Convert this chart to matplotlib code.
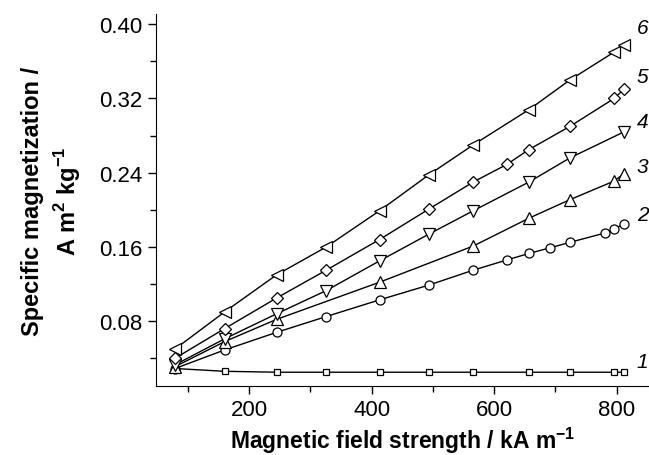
import matplotlib
matplotlib.use('Agg')
import matplotlib.pyplot as plt
from matplotlib.ticker import MultipleLocator

plt.rcParams['font.family'] = ['Liberation Sans', 'DejaVu Sans']

# sample 1 .. 6 (field kA/m, magnetization A m2/kg)
x1 = [79, 160, 245, 326, 413, 494, 566, 657, 724, 796, 812]
y1 = [0.029, 0.026, 0.025, 0.025, 0.025, 0.025, 0.025, 0.025, 0.025, 0.025, 0.025]

x2 = [79, 160, 245, 326, 413, 494, 566, 621, 657, 691, 724, 781, 796, 812]
y2 = [0.029, 0.049, 0.068, 0.085, 0.103, 0.119, 0.135, 0.146, 0.153, 0.159, 0.165, 0.175, 0.179, 0.185]

x3 = [79, 160, 245, 413, 566, 657, 724, 796, 812]
y3 = [0.031, 0.058, 0.082, 0.122, 0.161, 0.191, 0.211, 0.231, 0.239]

x4 = [79, 160, 245, 326, 413, 494, 566, 657, 724, 812]
y4 = [0.033, 0.061, 0.088, 0.113, 0.145, 0.174, 0.199, 0.230, 0.256, 0.284]

x5 = [79, 160, 245, 326, 413, 494, 566, 621, 657, 724, 796, 812]
y5 = [0.040, 0.072, 0.105, 0.135, 0.168, 0.201, 0.230, 0.249, 0.265, 0.290, 0.320, 0.330]

x6 = [79, 160, 245, 326, 413, 494, 566, 657, 724, 796, 812]
y6 = [0.050, 0.090, 0.130, 0.160, 0.199, 0.238, 0.270, 0.308, 0.340, 0.370, 0.378]

labels = ['1', '2', '3', '4', '5', '6']
label_y = [0.037, 0.195, 0.247, 0.295, 0.344, 0.396]

fig = plt.figure(figsize=(6.49, 4.56), dpi=100)
ax = fig.add_axes([0.2404, 0.151, 0.7596, 0.816])

style = dict(color='black', lw=1, mfc='white', mec='black', mew=0.9)
ax.plot(x1, y1, marker='s', ms=5, **style)
ax.plot(x2, y2, marker='o', ms=6.5, **style)
ax.plot(x3, y3, marker='^', ms=8, **style)
ax.plot(x4, y4, marker='v', ms=8, **style)
ax.plot(x5, y5, marker='D', ms=6, **style)
ax.plot(x6, y6, marker='<', ms=8, **style)

for lab, ly in zip(labels, label_y):
    ax.text(833, ly, lab, fontsize=15, style='italic', va='center', ha='left', clip_on=False)

ax.set_xlim(48, 853)
ax.set_ylim(0.01, 0.411)
ax.xaxis.set_major_locator(MultipleLocator(200))
ax.xaxis.set_minor_locator(MultipleLocator(100))
ax.yaxis.set_major_locator(MultipleLocator(0.08))
ax.yaxis.set_minor_locator(MultipleLocator(0.04))
ax.yaxis.set_major_formatter(plt.FormatStrFormatter('%.2f'))

ax.spines['top'].set_visible(False)
ax.spines['right'].set_visible(False)
ax.tick_params(which='major', direction='out', length=6, width=1, labelsize=16)
ax.tick_params(which='minor', direction='out', length=4, width=1)

ax.set_xlabel('Magnetic field strength / kA m$^{\\mathregular{-1}}$', fontsize=16.5, fontweight='bold', labelpad=3)
ax.set_ylabel('Specific magnetization /\nA m$^{\\mathregular{2}}$ kg$^{\\mathregular{-1}}$', fontsize=17, fontweight='bold',
              labelpad=12, linespacing=1.35)

fig.savefig('out.png', dpi=100)
